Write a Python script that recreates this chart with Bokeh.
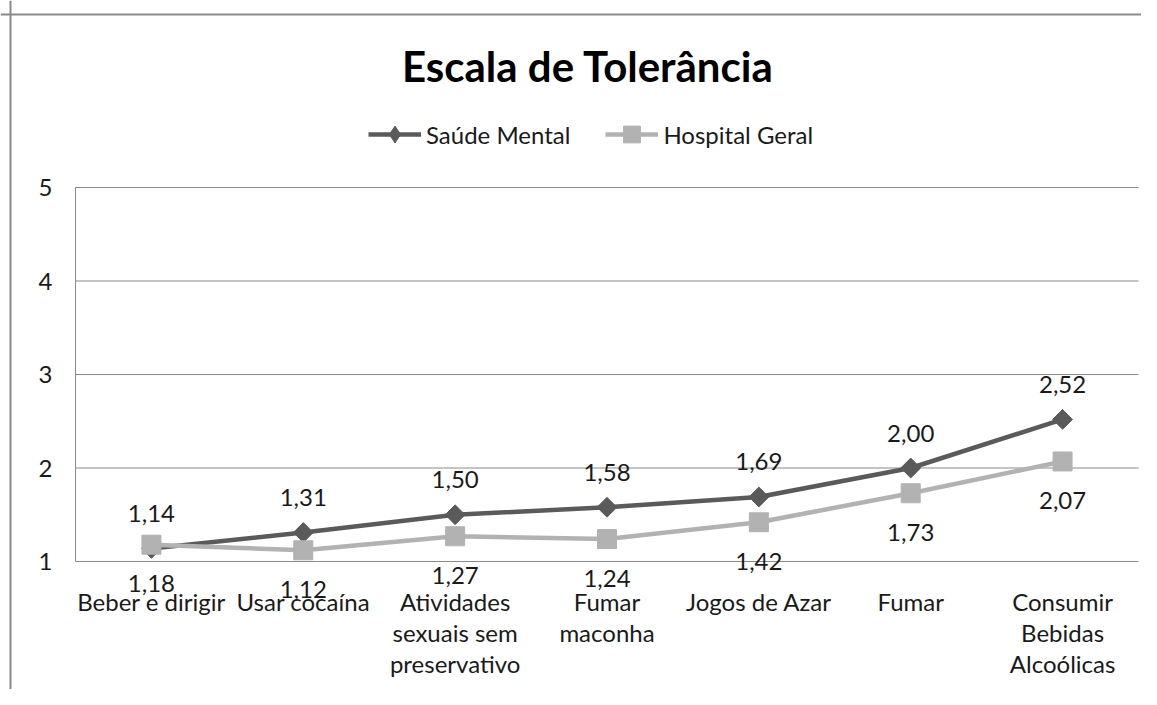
from bokeh.plotting import figure
from bokeh.models import Range1d, ColumnDataSource, Legend, LegendItem, Span
from bokeh.core.properties import value
from bokeh.embed import file_html
from bokeh.resources import INLINE
import math

# ---- data ----
categories = ["Beber e dirigir", "Usar cocaína",
              "Atividades\nsexuais sem\npreservativo", "Fumar\nmaconha",
              "Jogos de Azar", "Fumar", "Consumir\nBebidas\nAlcoólicas"]
saude_mental = [1.14, 1.31, 1.50, 1.58, 1.69, 2.00, 2.52]
hospital_geral = [1.18, 1.12, 1.27, 1.24, 1.42, 1.73, 2.07]
y_ticks = [1, 2, 3, 4, 5]
title_text = "Escala de Tolerância"
series_names = ["Saúde Mental", "Hospital Geral"]

# ---- layout (page pixels) ----
W, H = 1141, 689
CX, CY = 0, 0                    # canvas origin in the screenshot
PL, PR, PT, PB = 75, 1138, 187, 561   # plot area in the screenshot
FONT = "Lato"
DARK = "#5A5A5A"
LIGHT = "#B2B2B2"
GRID = "#8A8A8A"
TXT = "#1a1a1a"

n = len(categories)
band = (PR - PL) / n
unit = (PB - PT) / (y_ticks[-1] - y_ticks[0])

def xd(px):
    return (px - PL) / band

def yd(py):
    return y_ticks[0] + (PB - py) / unit

def fmt(v):
    return f"{v:.2f}".replace(".", ",")

xpos = [i + 0.5 for i in range(n)]
src = ColumnDataSource(dict(
    x=xpos, cat=categories, sm=saude_mental, hg=hospital_geral,
    sm_txt=[fmt(v) for v in saude_mental],
    hg_txt=[fmt(v) for v in hospital_geral],
))

p = figure(x_range=Range1d(xd(CX), xd(CX + W)), y_range=Range1d(yd(CY + H), yd(CY)),
           width=W, height=H, output_backend="svg", toolbar_location=None,
           title=None, x_axis_type=None, y_axis_type=None,
           min_border=0, min_border_left=0, min_border_right=0,
           min_border_top=0, min_border_bottom=0)
p.outline_line_color = None
p.xgrid.visible = False
p.ygrid.visible = False
p.background_fill_color = "white"
p.border_fill_color = "white"

# outer chart border (top and left visible)
p.add_layout(Span(location=yd(14), dimension="width", line_color=GRID, line_width=2))
p.add_layout(Span(location=xd(10), dimension="height", line_color=GRID, line_width=2))

# gridlines (incl. baseline at 1) and value axis line
p.segment(x0=0, x1=n, y0=y_ticks, y1=y_ticks, line_color=GRID, line_width=1)
p.segment(x0=0, x1=0, y0=y_ticks[0], y1=y_ticks[-1], line_color=GRID, line_width=1)

# y tick labels
p.text(x=[0] * len(y_ticks), y=y_ticks, text=[str(t) for t in y_ticks],
       x_offset=-23, text_align="right", text_baseline="middle",
       text_font=value(FONT), text_font_size="24px", text_color=TXT)

# category labels
p.text(x="x", y=y_ticks[0], text="cat", source=src, y_offset=25,
       text_align="center", text_baseline="top", text_line_height=1.08,
       text_font=value(FONT), text_font_size="24px", text_color=TXT)

# series
l1 = p.line("x", "sm", source=src, line_color=DARK, line_width=4.5)
# diamond glyph used for the legend key (hidden beneath the larger markers)
k1 = p.scatter("x", "sm", source=src, marker="diamond", size=10,
               fill_color=DARK, line_color=DARK)
m1 = p.scatter("x", "sm", source=src, marker="square", angle=math.pi / 4,
               size=14, fill_color=DARK, line_color=DARK)
l2 = p.line("x", "hg", source=src, line_color=LIGHT, line_width=4.5)
m2 = p.scatter("x", "hg", source=src, marker="square", size=19,
               fill_color=LIGHT, line_color=LIGHT)

# data labels
lab_kw = dict(text_font=value(FONT), text_font_size="24px", text_color=TXT,
              text_align="center", text_baseline="middle")
p.text(x="x", y="sm", text="sm_txt", source=src, y_offset=-35, **lab_kw)
p.text(x="x", y="hg", text="hg_txt", source=src, y_offset=39, **lab_kw)

# title
p.text(x=[xd(587.5)], y=[yd(65.5)], text=[title_text], text_align="center",
       text_baseline="middle", text_font=value(FONT), text_font_size="42px",
       text_font_style="bold", text_color="black")

# legend
legend = Legend(items=[LegendItem(label=series_names[0], renderers=[l1, k1]),
                       LegendItem(label=series_names[1], renderers=[l2, m2])],
                location=(368 - CX, CY + H - 155), orientation="horizontal",
                label_text_font=FONT, label_text_font_size="24px",
                label_text_color=TXT, glyph_width=53, glyph_height=42,
                label_standoff=5, spacing=35, padding=0, margin=0,
                border_line_color=None, background_fill_alpha=0)
p.add_layout(legend, "center")

open("out.html", "w").write(file_html(p, INLINE))
